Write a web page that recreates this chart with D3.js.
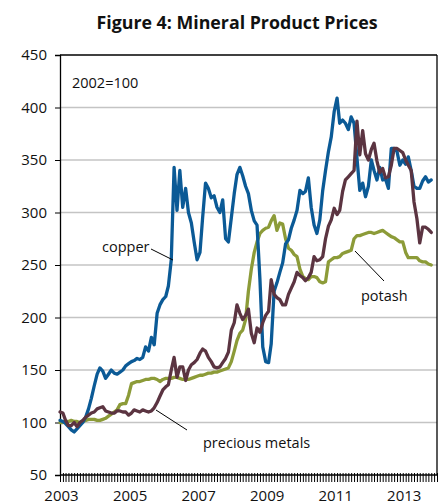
<!DOCTYPE html>
<html><head><meta charset="utf-8">
<script src="https://cdn.jsdelivr.net/npm/d3@7"></script>
<style>
html,body{margin:0;padding:0;background:#fff;}
svg{display:block;}
</style></head>
<body><svg id="c" width="445" height="504"></svg>
<script>
// Monthly index values (2002=100), Jan 2003 - Nov 2013
const startYear = 2003;
const copper = [102,101,99,96,93,91,94,97,100,105,113,123,135,146,152,149,142,146,150,147,146,148,150,154,156,158,159,161,160,162,172,168,181,174,204,212,217,220,230,255,343,302,340,305,323,300,290,272,255,262,295,328,323,314,316,305,300,312,275,272,295,318,336,343,335,325,318,302,292,288,236,172,158,157,175,225,233,243,252,270,274,285,293,302,321,318,320,333,305,288,280,293,321,340,358,372,396,409,385,388,385,379,391,385,352,321,328,315,325,350,340,331,343,331,332,323,361,361,358,345,350,346,353,340,325,323,323,330,334,329,331];
const potash = [100,100,101,101,102,101,101,100,101,102,103,103,103,102,102,103,104,106,108,110,112,117,118,118,126,137,138,139,139,140,141,141,142,142,141,139,141,142,142,142,143,143,142,141,141,141,142,143,144,145,145,146,147,147,148,148,149,150,151,152,158,168,178,185,188,198,225,246,262,272,280,283,285,286,292,297,283,290,289,275,266,264,260,258,246,239,237,236,239,239,238,234,233,234,253,255,257,257,258,261,262,263,264,275,278,278,279,280,281,281,280,281,282,283,281,279,277,276,274,272,272,262,257,257,257,257,254,253,253,251,250];
const precious = [110,109,102,97,97,100,96,100,102,105,107,109,110,113,114,115,111,110,109,109,111,111,110,110,107,109,112,111,110,112,111,110,111,114,119,125,131,134,136,150,162,143,153,153,140,150,155,157,160,166,170,168,162,158,153,152,153,157,161,167,188,195,212,204,198,202,208,185,176,190,186,195,202,206,236,222,219,217,212,212,222,228,234,243,240,238,235,238,243,258,254,255,258,275,287,293,304,298,302,320,331,334,337,340,387,355,378,356,350,360,366,349,338,342,333,334,345,361,361,359,357,350,345,340,310,294,271,286,286,284,281];
const yTicks = [50,100,150,200,250,300,350,400,450];
const xLabels = [2003,2005,2007,2009,2011,2013];
const seriesNames = ["potash","copper","precious metals"];
const seriesColors = ["#8C9B38","#0B5A96","#5B3441"];

const svg = d3.select("#c");
const L = 60, R = 437, T = 55, B = 475;
const x = d3.scaleTime().domain([new Date(2003,0,1), new Date(2014,0,1)]).range([L, R]);
const y = d3.scaleLinear().domain([50,450]).range([B, T]);
const FONT = "'Open Sans', 'Noto Sans', sans-serif";

// title
svg.append("text").attr("x", 237).attr("y", 29).attr("text-anchor","middle")
  .attr("font-family", FONT).attr("font-weight","bold").attr("font-size", 18.5)
  .attr("textLength", 281).attr("lengthAdjust","spacingAndGlyphs")
  .attr("fill","#111").text("Figure 4: Mineral Product Prices");

// gridlines
svg.append("g").selectAll("line").data(yTicks.filter(d => d > 50 && d < 450)).join("line")
  .attr("x1", L).attr("x2", R).attr("y1", d => y(d)).attr("y2", d => y(d))
  .attr("stroke", "#c4c4c4").attr("stroke-width", 1.3);

// y axis
const yAxis = d3.axisLeft(y).tickValues(yTicks).tickSize(5).tickPadding(8);
const gy = svg.append("g").attr("transform", `translate(${L},0)`).call(yAxis);
gy.select(".domain").attr("stroke","#000").attr("stroke-width",1.3);
gy.selectAll(".tick line").attr("stroke","#000");
gy.selectAll("text").attr("font-family", FONT).attr("font-size", 15).attr("fill","#111");

// x axis monthly ticks
const months = d3.timeMonth.range(new Date(2003,0,1), new Date(2014,0,2));
const xAxis = d3.axisBottom(x).tickValues(months).tickSize(9).tickFormat("");
const gx = svg.append("g").attr("transform", `translate(0,${B - 2})`).call(xAxis);
gx.select(".domain").remove();
gx.selectAll(".tick line").attr("stroke","#000").attr("stroke-width",1);
svg.append("line").attr("x1", L).attr("x2", R).attr("y1", B).attr("y2", B).attr("stroke","#000").attr("stroke-width",1.3);

// x labels
svg.append("g").selectAll("text").data(xLabels).join("text")
  .attr("x", d => x(new Date(d,0,1)) + 1.5).attr("y", 501).attr("text-anchor","middle")
  .attr("font-family", FONT).attr("font-size", 15).attr("fill","#111").text(d => d);

// frame
svg.append("line").attr("x1", L).attr("x2", R).attr("y1", T).attr("y2", T).attr("stroke","#000").attr("stroke-width",1.3);
svg.append("line").attr("x1", R).attr("x2", R).attr("y1", T).attr("y2", B).attr("stroke","#000").attr("stroke-width",1.3);

// lines
const line = d3.line().x((d,i) => x(new Date(startYear, i, 1))).y(d => y(d));
[potash, copper, precious].forEach((s, k) => {
  svg.append("path").datum(s).attr("d", line).attr("fill","none")
    .attr("stroke", seriesColors[k]).attr("stroke-width", 3.3)
    .attr("stroke-linejoin","round").attr("stroke-linecap","round");
});

// annotations
function ann(text, tx, ty, x1, y1, x2, y2) {
  svg.append("text").attr("x", tx).attr("y", ty).attr("font-family", FONT)
    .attr("font-size", 14.5).attr("fill","#111").text(text);
  svg.append("line").attr("x1", x1).attr("y1", y1).attr("x2", x2).attr("y2", y2)
    .attr("stroke","#000").attr("stroke-width",1);
}
svg.append("text").attr("x", 72).attr("y", 88).attr("font-family", FONT)
  .attr("font-size", 14.5).attr("fill","#111").text("2002=100");
ann("copper", 102, 252, 151, 249, 173, 260);
ann("potash", 361, 301, 355, 251, 384, 281);
ann("precious metals", 203, 448, 156, 410, 187, 430);
</script></body></html>
